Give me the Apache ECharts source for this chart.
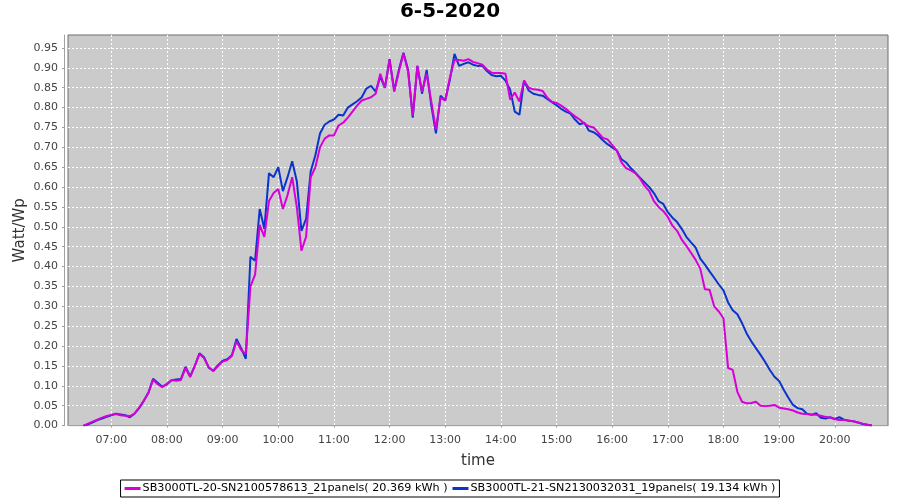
<!DOCTYPE html>
<html>
<head>
<meta charset="utf-8">
<script src="https://cdn.jsdelivr.net/npm/echarts@6/dist/echarts.min.js"></script>
<style>html,body{margin:0;padding:0;background:#fff}#c{width:900px;height:500px}</style>
</head>
<body>
<div id="c"></div>
<script>
var titleText = '6-5-2020';
var seriesNames = ['SB3000TL-20-SN2100578613_21panels( 20.369 kWh )', 'SB3000TL-21-SN2130032031_19panels( 19.134 kWh )'];
var times = ['06:30','06:35','06:40','06:45','06:50','06:55','07:00','07:05','07:10','07:15','07:20','07:25','07:30','07:35','07:40','07:45','07:50','07:55',
'08:00','08:05','08:10','08:15','08:20','08:25','08:30','08:35','08:40','08:45','08:50','08:55',
'09:00','09:05','09:10','09:15','09:20','09:25','09:30','09:35','09:40','09:45','09:50','09:55',
'10:00','10:05','10:10','10:15','10:20','10:25','10:30','10:35','10:40','10:45','10:50','10:55',
'11:00','11:05','11:10','11:15','11:20','11:25','11:30','11:35','11:40','11:45','11:50','11:55',
'12:00','12:05','12:10','12:15','12:20','12:25','12:30','12:35','12:40','12:45','12:50','12:55',
'13:00','13:05','13:10','13:15','13:20','13:25','13:30','13:35','13:40','13:45','13:50','13:55',
'14:00','14:05','14:10','14:15','14:20','14:25','14:30','14:35','14:40','14:45','14:50','14:55',
'15:00','15:05','15:10','15:15','15:20','15:25','15:30','15:35','15:40','15:45','15:50','15:55',
'16:00','16:05','16:10','16:15','16:20','16:25','16:30','16:35','16:40','16:45','16:50','16:55',
'17:00','17:05','17:10','17:15','17:20','17:25','17:30','17:35','17:40','17:45','17:50','17:55',
'18:00','18:05','18:10','18:15','18:20','18:25','18:30','18:35','18:40','18:45','18:50','18:55',
'19:00','19:05','19:10','19:15','19:20','19:25','19:30','19:35','19:40','19:45','19:50','19:55',
'20:00','20:05','20:10','20:15','20:20','20:25','20:30','20:35','20:40'];
var magenta = [0.000,0.005,0.010,0.015,0.020,0.024,0.027,0.029,0.026,0.025,0.024,0.030,0.045,0.063,0.082,0.115,0.104,0.097,
0.105,0.115,0.113,0.115,0.145,0.122,0.150,0.180,0.170,0.147,0.137,0.150,
0.161,0.165,0.175,0.212,0.190,0.180,0.350,0.380,0.505,0.475,0.565,0.585,
0.595,0.545,0.580,0.625,0.550,0.440,0.475,0.625,0.650,0.700,0.722,0.730,
0.730,0.755,0.762,0.775,0.790,0.805,0.818,0.822,0.826,0.835,0.885,0.850,
0.920,0.840,0.890,0.936,0.890,0.780,0.905,0.840,0.885,0.815,0.745,0.825,
0.818,0.875,0.920,0.920,0.918,0.922,0.915,0.912,0.908,0.896,0.888,0.887,
0.887,0.885,0.820,0.838,0.815,0.868,0.850,0.846,0.845,0.842,0.825,0.815,
0.812,0.805,0.797,0.787,0.778,0.770,0.760,0.753,0.750,0.737,0.724,0.720,
0.706,0.692,0.662,0.648,0.642,0.635,0.622,0.603,0.590,0.565,0.550,0.540,
0.525,0.503,0.490,0.468,0.452,0.435,0.417,0.395,0.343,0.342,0.300,0.287,
0.270,0.145,0.140,0.085,0.060,0.056,0.057,0.060,0.050,0.049,0.050,0.052,
0.045,0.043,0.041,0.038,0.033,0.030,0.029,0.028,0.027,0.025,0.022,0.020,
0.016,0.014,0.014,0.013,0.011,0.008,0.005,0.002,0.000];
var blue = [0.000,0.003,0.008,0.014,0.018,0.022,0.026,0.030,0.028,0.026,0.021,0.030,0.044,0.062,0.083,0.118,0.108,0.098,
0.104,0.114,0.116,0.117,0.148,0.124,0.150,0.182,0.172,0.146,0.138,0.152,
0.163,0.167,0.177,0.218,0.195,0.168,0.425,0.415,0.545,0.495,0.635,0.625,
0.650,0.590,0.625,0.665,0.615,0.490,0.520,0.640,0.680,0.735,0.757,0.765,
0.770,0.782,0.780,0.800,0.808,0.816,0.826,0.848,0.855,0.840,0.878,0.850,
0.922,0.843,0.895,0.938,0.895,0.775,0.905,0.835,0.895,0.805,0.735,0.830,
0.818,0.870,0.935,0.905,0.910,0.914,0.908,0.905,0.906,0.892,0.882,0.879,
0.880,0.868,0.845,0.790,0.782,0.868,0.843,0.835,0.832,0.830,0.822,0.814,
0.806,0.797,0.790,0.785,0.770,0.758,0.762,0.742,0.738,0.730,0.718,0.708,
0.700,0.692,0.670,0.662,0.648,0.636,0.624,0.612,0.600,0.585,0.565,0.558,
0.537,0.523,0.512,0.495,0.475,0.461,0.448,0.420,0.405,0.388,0.372,0.355,
0.340,0.310,0.290,0.280,0.258,0.232,0.212,0.195,0.178,0.160,0.140,0.123,
0.112,0.090,0.070,0.052,0.044,0.041,0.030,0.027,0.031,0.020,0.018,0.021,
0.017,0.021,0.015,0.012,0.011,0.008,0.004,0.002,0.000];
var xTickLabels = ['07:00','08:00','09:00','10:00','11:00','12:00','13:00','14:00','15:00','16:00','17:00','18:00','19:00','20:00'];
var yTickLabels = ['0.00','0.05','0.10','0.15','0.20','0.25','0.30','0.35','0.40','0.45','0.50','0.55','0.60','0.65','0.70','0.75','0.80','0.85','0.90','0.95'];

function toMin(s){var p=s.split(':');return (+p[0])*60+(+p[1]);}
function toHHMM(v){var h=Math.floor(v/60),m=Math.round(v-h*60);return (h<10?'0':'')+h+':'+(m<10?'0':'')+m;}
function pairs(vals){return times.map(function(t,i){return [toMin(t), vals[i]];});}

var FONT = 'DejaVu Sans';
var chart = echarts.init(document.getElementById('c'), null, {renderer:'canvas'});
chart.setOption({
  animation:false,
  backgroundColor:'#ffffff',
  title:{text:titleText,left:'center',top:2,padding:0,textStyle:{fontFamily:FONT,fontSize:20,fontWeight:'bold',color:'#000'}},
  legend:{
    data:[seriesNames[0],seriesNames[1]],
    bottom:3,left:'center',
    borderColor:'#000',borderWidth:1,padding:[3,4,3,4],
    itemGap:5,itemWidth:16,itemHeight:3,icon:'rect',
    textStyle:{fontFamily:FONT,fontSize:11.2,color:'#000',padding:[0,0,0,-3]}
  },
  grid:{left:68,right:12,top:35,bottom:74.4,show:true,backgroundColor:'#cbcbcb',borderColor:'#6e6e6e',borderWidth:1},
  xAxis:{
    type:'value',min:373.3,max:1257.4,offset:4,
    name:'time',nameLocation:'middle',nameGap:24,nameMoveOverlap:false,
    nameTextStyle:{fontFamily:FONT,fontSize:15,color:'#333'},
    axisLine:{show:true,lineStyle:{color:'#a0a0a0',width:1}},
    axisTick:{show:true,length:2,lineStyle:{color:'#a0a0a0'},customValues:xTickLabels.map(toMin)},
    axisLabel:{fontFamily:FONT,fontSize:11,color:'#444',margin:5,customValues:xTickLabels.map(toMin),formatter:function(v){return toHHMM(v);}},
    splitLine:{show:true,lineStyle:{color:'#ffffff',width:1,type:[2,2]}}
  },
  yAxis:{
    type:'value',min:0,max:0.9827,offset:4,
    name:'Watt/Wp',nameLocation:'middle',nameGap:36,nameRotate:90,nameMoveOverlap:false,
    nameTextStyle:{fontFamily:FONT,fontSize:15,color:'#333'},
    axisLine:{show:true,lineStyle:{color:'#a0a0a0',width:1}},
    axisTick:{show:true,length:2,lineStyle:{color:'#a0a0a0'},customValues:yTickLabels.map(Number)},
    axisLabel:{fontFamily:FONT,fontSize:11,color:'#444',margin:6,customValues:yTickLabels.map(Number),formatter:function(v){return v.toFixed(2);}},
    splitLine:{show:true,lineStyle:{color:'#ffffff',width:1,type:[2,2]}}
  },
  series:[
    {name:seriesNames[1],type:'line',data:pairs(blue),showSymbol:false,symbol:'none',color:'#0a34cc',lineStyle:{width:2,color:'#0a34cc'},z:2},
    {name:seriesNames[0],type:'line',data:pairs(magenta),showSymbol:false,symbol:'none',color:'#d800d8',lineStyle:{width:2,color:'#d800d8'},z:3}
  ]
});
</script>
</body>
</html>
